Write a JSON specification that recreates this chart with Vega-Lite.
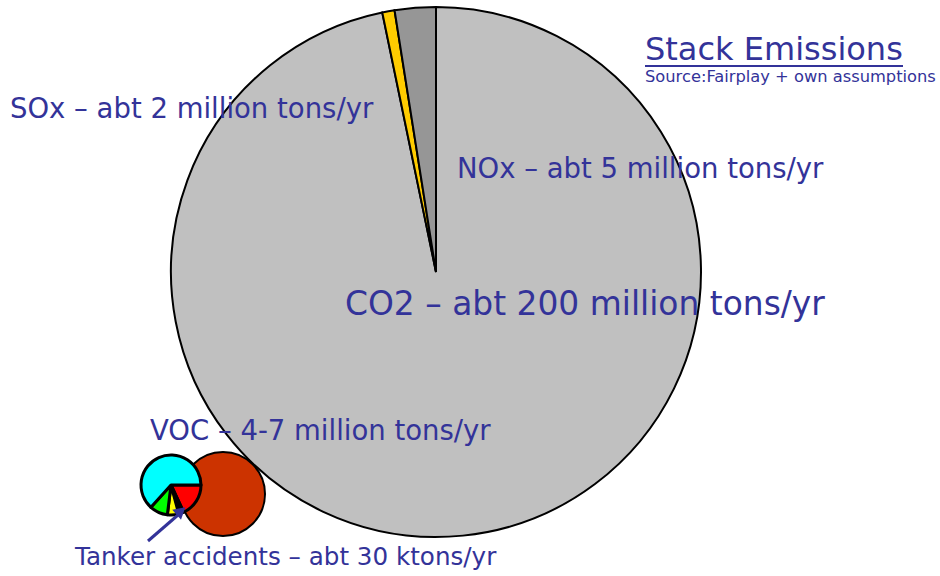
{
  "$schema": "https://vega.github.io/schema/vega-lite/v6.json",
  "width": 940,
  "height": 576,
  "padding": 0,
  "autosize": "none",
  "background": "white",
  "config": {"view": {"stroke": null}, "axis": {"disable": true}},
  "datasets": {
    "big": [
      {"part": "CO2", "deg": 348.3, "o": 1, "cx": 436, "cy": 272},
      {"part": "SOx", "deg": 2.7, "o": 2, "cx": 436, "cy": 272},
      {"part": "NOx", "deg": 9.0, "o": 3, "cx": 436, "cy": 272}
    ],
    "voc": [
      {"part": "VOC", "deg": 360, "o": 1, "cx": 223, "cy": 494}
    ],
    "tanker": [
      {"part": "Tanker red", "deg": 65, "o": 1, "cx": 171, "cy": 485},
      {"part": "Tanker black", "deg": 10, "o": 2, "cx": 171, "cy": 485},
      {"part": "Tanker yellow", "deg": 22, "o": 3, "cx": 171, "cy": 485},
      {"part": "Tanker green", "deg": 35, "o": 4, "cx": 171, "cy": 485},
      {"part": "Tanker cyan", "deg": 228, "o": 5, "cx": 171, "cy": 485}
    ],
    "labels": [
      {"text": "SOx – abt 2 million tons/yr", "x": 10, "y": 110, "fs": "m"},
      {"text": "NOx – abt 5 million tons/yr", "x": 457, "y": 170, "fs": "m"},
      {"text": "CO2 – abt 200 million tons/yr", "x": 345, "y": 305, "fs": "l"},
      {"text": "VOC – 4-7 million tons/yr", "x": 150, "y": 432, "fs": "m"},
      {"text": "Tanker accidents – abt 30 ktons/yr", "x": 75, "y": 558, "fs": "s"},
      {"text": "Stack Emissions", "x": 645, "y": 50, "fs": "t"},
      {"text": "Source:Fairplay + own assumptions", "x": 645, "y": 77, "fs": "xs"}
    ],
    "underline": [{"x": 645, "x2": 903, "y": 66}],
    "arrow": [{"x": 148, "y": 541, "x2": 178, "y2": 515}],
    "head": [{"x": 181, "y": 511}]
  },
  "layer": [
    {
      "data": {"name": "big"},
      "mark": {"type": "arc", "outerRadius": 265, "stroke": "black", "strokeWidth": 2},
      "encoding": {
        "x": {"field": "cx", "type": "quantitative", "scale": {"domain": [0, 940], "nice": false, "zero": false}},
        "y": {"field": "cy", "type": "quantitative", "scale": {"domain": [0, 576], "reverse": true, "nice": false, "zero": false}},
        "theta": {"field": "deg", "type": "quantitative", "stack": true},
        "order": {"field": "o"},
        "color": {"field": "part", "type": "nominal", "legend": null,
          "scale": {"domain": ["CO2", "SOx", "NOx", "VOC", "Tanker red", "Tanker black", "Tanker yellow", "Tanker green", "Tanker cyan"],
                    "range": ["#C0C0C0", "#FFCC00", "#969696", "#CC3300", "#FF0000", "#000000", "#FFFF00", "#00FF00", "#00FFFF"]}}
      }
    },
    {
      "data": {"name": "voc"},
      "mark": {"type": "arc", "outerRadius": 42, "stroke": "black", "strokeWidth": 2},
      "encoding": {
        "x": {"field": "cx", "type": "quantitative"},
        "y": {"field": "cy", "type": "quantitative"},
        "theta": {"field": "deg", "type": "quantitative", "stack": true},
        "color": {"field": "part", "type": "nominal", "legend": null}
      }
    },
    {
      "data": {"name": "tanker"},
      "mark": {"type": "arc", "outerRadius": 30, "stroke": "black", "strokeWidth": 3, "strokeJoin": "round"},
      "encoding": {
        "x": {"field": "cx", "type": "quantitative"},
        "y": {"field": "cy", "type": "quantitative"},
        "theta": {"field": "deg", "type": "quantitative", "stack": true, "scale": {"range": [1.5708, 7.8540]}},
        "order": {"field": "o"},
        "color": {"field": "part", "type": "nominal", "legend": null}
      }
    },
    {
      "data": {"name": "labels"},
      "transform": [{"filter": "datum.fs == 'm'"}],
      "mark": {"type": "text", "align": "left", "baseline": "middle", "font": "DejaVu Sans", "color": "#333399", "fontSize": 27.5},
      "encoding": {
        "x": {"field": "x", "type": "quantitative"},
        "y": {"field": "y", "type": "quantitative"},
        "text": {"field": "text"}
      }
    },
    {
      "data": {"name": "labels"},
      "transform": [{"filter": "datum.fs == 'l'"}],
      "mark": {"type": "text", "align": "left", "baseline": "middle", "font": "DejaVu Sans", "color": "#333399", "fontSize": 32.9},
      "encoding": {
        "x": {"field": "x", "type": "quantitative"},
        "y": {"field": "y", "type": "quantitative"},
        "text": {"field": "text"}
      }
    },
    {
      "data": {"name": "labels"},
      "transform": [{"filter": "datum.fs == 't'"}],
      "mark": {"type": "text", "align": "left", "baseline": "middle", "font": "DejaVu Sans", "color": "#333399", "fontSize": 32},
      "encoding": {
        "x": {"field": "x", "type": "quantitative"},
        "y": {"field": "y", "type": "quantitative"},
        "text": {"field": "text"}
      }
    },
    {
      "data": {"name": "labels"},
      "transform": [{"filter": "datum.fs == 's'"}],
      "mark": {"type": "text", "align": "left", "baseline": "middle", "font": "DejaVu Sans", "color": "#333399", "fontSize": 24.6},
      "encoding": {
        "x": {"field": "x", "type": "quantitative"},
        "y": {"field": "y", "type": "quantitative"},
        "text": {"field": "text"}
      }
    },
    {
      "data": {"name": "labels"},
      "transform": [{"filter": "datum.fs == 'xs'"}],
      "mark": {"type": "text", "align": "left", "baseline": "middle", "font": "DejaVu Sans", "color": "#333399", "fontSize": 16.3},
      "encoding": {
        "x": {"field": "x", "type": "quantitative"},
        "y": {"field": "y", "type": "quantitative"},
        "text": {"field": "text"}
      }
    },
    {
      "data": {"name": "underline"},
      "mark": {"type": "rule", "color": "#333399", "strokeWidth": 2},
      "encoding": {
        "x": {"field": "x", "type": "quantitative"},
        "x2": {"field": "x2"},
        "y": {"field": "y", "type": "quantitative"}
      }
    },
    {
      "data": {"name": "arrow"},
      "mark": {"type": "rule", "color": "#333399", "strokeWidth": 3},
      "encoding": {
        "x": {"field": "x", "type": "quantitative"},
        "y": {"field": "y", "type": "quantitative"},
        "x2": {"field": "x2"},
        "y2": {"field": "y2"}
      }
    },
    {
      "data": {"name": "head"},
      "mark": {"type": "point", "shape": "triangle-up", "filled": true, "color": "#333399", "opacity": 1, "size": 180, "angle": 49},
      "encoding": {
        "x": {"field": "x", "type": "quantitative"},
        "y": {"field": "y", "type": "quantitative"}
      }
    }
  ],
  "resolve": {"scale": {"theta": "independent"}}
}
